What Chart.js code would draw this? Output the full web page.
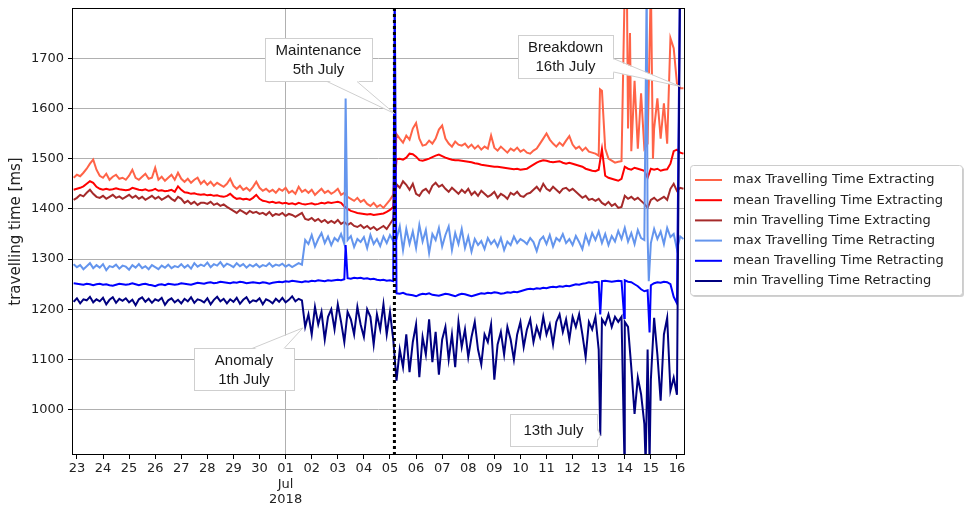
<!DOCTYPE html>
<html><head><meta charset="utf-8">
<script src="https://cdn.jsdelivr.net/npm/chart.js@4.4.1/dist/chart.umd.min.js"></script>
<style>html,body{margin:0;padding:0;background:#fff}canvas{display:block}</style>
</head><body>
<canvas id="c" width="966" height="511"></canvas>
<script>
// ---------- DATA ----------
// x axis: days since 23 Jun 2018 00:00 (0 = 23 Jun, 8 = 01 Jul, 23 = 16 Jul)
const dayLabels = ['23','24','25','26','27','28','29','30','01','02','03','04','05','06','07','08','09','10','11','12','13','14','15','16'];
const monthLabel = 'Jul';
const yearLabel = '2018';
const monthStartDay = 8;
const yTicks = [1000, 1100, 1200, 1300, 1400, 1500, 1600, 1700];
const seriesNames = [
  'max Travelling Time Extracting',
  'mean Travelling Time Extracting',
  'min Travelling Time Extracting',
  'max Travelling Time Retracting',
  'mean Travelling Time Retracting',
  'min Travelling Time Retracting'
];
// samples every 3 hours starting 22 Jun 21:00 (day -0.125)
const sampleStart = -0.125;
const sampleStep = 0.125;
const maintenanceDay = 12.17;

const maxExtracting = [
  1462,1468,1465,1472,1480,1490,1498,1478,
  1466,1462,1470,1458,1464,1468,1460,1462,
  1458,1466,1478,1462,1458,1464,1470,1460,
  1462,1482,1458,1464,1456,1462,1468,1458,
  1472,1460,1454,1460,1452,1458,1462,1450,
  1456,1448,1454,1446,1452,1448,1444,1450,
  1460,1446,1440,1446,1438,1442,1436,1444,
  1454,1442,1436,1440,1434,1438,1432,1440,
  1436,1442,1432,1436,1430,1444,1434,1438,
  1432,1438,1428,1434,1440,1432,1436,1430,
  1434,1440,1428,1432,1424,1420,1416,1422,
  1414,1418,1410,1406,1412,1404,1408,1402,
  1410,1418,1428,1549,1540,1532,1546,1538,
  1560,1571,1540,1526,1528,1536,1530,1540,
  1558,1566,1540,1530,1524,1534,1528,1526,
  1530,1522,1528,1520,1526,1518,1524,1520,
  1546,1522,1516,1524,1518,1512,1520,1516,
  1522,1514,1518,1512,1510,1516,1520,1530,
  1540,1550,1538,1530,1524,1532,1526,1536,
  1545,1528,1520,1524,1516,1522,1514,1512,
  1510,1506,1635,1520,1500,1496,1492,1494,
  1495,1850,1560,1515,1655,1520,1630,1520,
  1530,1850,1560,1620,1540,1610,1530,1740,
  1720,1650,1640,1640
];
const meanExtracting = [
  1438,1440,1442,1445,1450,1455,1452,1444,
  1440,1438,1440,1438,1439,1441,1439,1438,
  1437,1438,1442,1440,1438,1437,1439,1436,
  1437,1440,1436,1437,1435,1436,1438,1434,
  1445,1438,1433,1432,1430,1431,1429,1428,
  1429,1427,1428,1426,1427,1425,1424,1426,
  1430,1424,1420,1421,1419,1420,1418,1422,
  1428,1420,1416,1415,1413,1414,1412,1413,
  1411,1412,1410,1411,1409,1412,1410,1409,
  1410,1411,1409,1410,1412,1411,1413,1412,
  1413,1414,1412,1405,1400,1396,1394,1392,
  1391,1390,1389,1390,1388,1389,1390,1391,
  1394,1398,1404,1499,1500,1498,1502,1510,
  1509,1504,1497,1496,1498,1500,1503,1506,
  1508,1505,1502,1500,1498,1497,1497,1496,
  1495,1494,1493,1491,1490,1488,1487,1486,
  1485,1484,1484,1483,1482,1481,1480,1479,
  1480,1478,1479,1480,1484,1488,1492,1495,
  1497,1496,1494,1493,1494,1495,1492,1490,
  1492,1490,1488,1486,1484,1480,1478,1476,
  1475,1478,1519,1466,1462,1460,1458,1456,
  1460,1484,1480,1478,1482,1480,1478,1476,
  1462,1480,1478,1480,1476,1478,1479,1490,
  1515,1518,1512,1510
];
const minExtracting = [
  1418,1422,1428,1425,1432,1438,1430,1424,
  1422,1426,1420,1424,1428,1422,1425,1420,
  1424,1428,1422,1426,1420,1424,1418,1422,
  1426,1420,1424,1418,1422,1426,1420,1416,
  1424,1420,1412,1416,1410,1414,1408,1412,
  1412,1410,1414,1408,1411,1406,1409,1404,
  1400,1396,1392,1398,1394,1390,1396,1392,
  1394,1390,1392,1388,1394,1386,1390,1388,
  1392,1386,1390,1388,1384,1388,1392,1380,
  1378,1382,1376,1380,1374,1378,1372,1376,
  1372,1378,1370,1374,1368,1372,1366,1364,
  1368,1362,1366,1360,1364,1358,1362,1366,
  1360,1370,1380,1449,1442,1455,1448,1438,
  1450,1430,1426,1436,1440,1432,1446,1452,
  1444,1448,1440,1434,1442,1436,1430,1438,
  1432,1440,1428,1434,1426,1436,1430,1424,
  1428,1434,1422,1430,1426,1420,1432,1428,
  1434,1426,1424,1430,1432,1438,1444,1436,
  1450,1440,1436,1444,1438,1432,1440,1442,
  1436,1440,1434,1428,1422,1426,1418,1420,
  1416,1420,1412,1408,1414,1406,1410,1402,
  1404,1426,1420,1424,1418,1422,1416,1410,
  1402,1418,1422,1416,1420,1424,1418,1440,
  1450,1436,1442,1440
];
const maxRetracting = [
  1290,1284,1288,1280,1286,1292,1282,1288,
  1283,1290,1278,1286,1284,1289,1281,1287,
  1285,1279,1288,1283,1290,1282,1286,1280,
  1288,1284,1280,1287,1283,1289,1282,1286,
  1284,1290,1283,1288,1281,1292,1285,1289,
  1286,1293,1284,1290,1287,1294,1285,1291,
  1288,1284,1292,1286,1290,1283,1289,1285,
  1290,1284,1288,1286,1292,1285,1289,1287,
  1291,1285,1289,1284,1288,1292,1289,1338,
  1330,1348,1325,1340,1352,1332,1345,1328,
  1342,1336,1350,1330,1338,1346,1324,1340,
  1334,1344,1322,1348,1330,1340,1326,1345,
  1332,1348,1336,1340,1365,1318,1360,1330,
  1355,1322,1368,1335,1358,1312,1350,1338,
  1362,1325,1348,1365,1318,1352,1330,1360,
  1322,1345,1315,1340,1328,1336,1320,1342,
  1330,1338,1325,1342,1318,1335,1328,1345,
  1332,1340,1336,1330,1342,1334,1316,1338,
  1345,1330,1348,1325,1342,1336,1350,1332,
  1340,1328,1346,1334,1320,1348,1330,1352,
  1338,1355,1332,1350,1328,1346,1335,1356,
  1340,1362,1335,1352,1330,1358,1342,1338,
  1345,1332,1360,1340,1355,1330,1362,1344,
  1350,1320,1345,1340
];
const meanRetracting = [
  1252,1251,1250,1249,1251,1250,1248,1250,
  1251,1249,1250,1248,1247,1249,1251,1250,
  1249,1250,1252,1250,1248,1250,1251,1249,
  1248,1246,1249,1250,1248,1251,1250,1249,
  1250,1252,1251,1250,1249,1251,1253,1252,
  1251,1253,1254,1252,1253,1255,1254,1253,
  1252,1254,1253,1255,1254,1252,1253,1254,
  1253,1252,1254,1253,1251,1253,1254,1255,
  1254,1256,1255,1257,1256,1255,1254,1256,
  1255,1257,1256,1258,1257,1256,1258,1257,
  1258,1259,1258,1260,1262,1261,1263,1262,
  1263,1261,1262,1260,1261,1259,1258,1259,
  1257,1258,1256,1232,1231,1233,1230,1229,
  1228,1226,1229,1231,1230,1232,1229,1228,
  1227,1229,1231,1230,1228,1226,1229,1231,
  1230,1228,1226,1228,1230,1232,1231,1233,
  1232,1234,1233,1231,1232,1234,1233,1235,
  1234,1236,1238,1240,1241,1240,1242,1241,
  1243,1242,1244,1245,1244,1246,1245,1247,
  1246,1248,1250,1249,1251,1252,1254,1253,
  1255,1254,1256,1257,1256,1255,1256,1257,
  1256,1258,1255,1254,1250,1246,1240,1236,
  1238,1248,1252,1254,1253,1255,1254,1250,
  1225,1212,1900,1900
];
const minRetracting = [
  1215,1222,1212,1220,1218,1225,1214,1220,
  1216,1223,1210,1219,1224,1213,1221,1217,
  1222,1214,1219,1208,1220,1224,1215,1221,
  1213,1220,1217,1223,1209,1218,1222,1214,
  1219,1212,1221,1216,1224,1213,1220,1218,
  1214,1222,1210,1219,1225,1216,1221,1212,
  1220,1215,1223,1211,1219,1224,1213,1218,
  1216,1222,1210,1220,1217,1212,1221,1215,
  1223,1214,1219,1226,1216,1221,1218,1165,
  1190,1150,1205,1170,1195,1140,1185,1200,
  1160,1210,1175,1135,1195,1180,1150,1205,
  1170,1145,1200,1185,1130,1190,1160,1210,
  1150,1195,1140,1058,1120,1085,1150,1075,
  1135,1170,1065,1145,1110,1180,1095,1155,
  1070,1140,1165,1100,1150,1085,1175,1125,
  1160,1105,1145,1175,1120,1090,1150,1135,
  1170,1060,1130,1155,1110,1165,1140,1100,
  1150,1175,1125,1160,1180,1135,1165,1145,
  1185,1150,1170,1130,1175,1190,1155,1180,
  1140,1185,1165,1190,1150,1105,1175,1160,
  1185,1120,1180,1170,1190,1165,1185,1175,
  1185,1175,1165,1084,992,1064,1031,972,
  1120,1060,1183,1110,1018,1150,1183,1038,
  1064,1030,1900,1900
];
// short isolated spikes between samples: [day, value]
const maxExtractingSpikes = [[20.05, 1638], [21.08, 1850], [21.2, 1750], [22.08, 1500]];
const meanExtractingSpikes = [];
const minExtractingSpikes = [];
const maxRetractingSpikes = [[10.3, 1620], [21.84, 1850], [21.92, 1256]];
const meanRetractingSpikes = [[10.3, 1328], [12.18, 1850], [20.06, 1190], [20.98, 1183], [21.95, 1154]];
const minRetractingSpikes = [[20.06, 948], [20.99, 890], [21.8, 890], [21.95, 895]];

// ---------- STYLE ----------
const colors = ['#ff6347', '#ff0000', '#a52a2a', '#6495ed', '#0000ff', '#000080'];
const annotations = [
  {lines: ['Maintenance', '5th July'], day: 12.17, value: 1590, dx: -76, dy: -54, w: 107, h: 43, side: 'bottom', base: [0.58, 0.86]},
  {lines: ['Breakdown', '16th July'], day: 23.12, value: 1644, dx: -115, dy: -30, w: 95, h: 43, side: 'right', base: [0.55, 0.86]},
  {lines: ['Anomaly', '1th July'], day: 8.66, value: 1163, dx: -59, dy: 41, w: 100, h: 42, side: 'top', base: [0.58, 0.9]},
  {lines: ['13th July'], day: 20.06, value: 948, dx: -47, dy: -6, w: 87, h: 32, side: 'right', base: [0.44, 0.84]}
];

function buildSeries(values, spikes) {
  const pts = values.map((v, i) => ({x: sampleStart + i * sampleStep, y: v}));
  spikes.forEach(([d, v]) => pts.push({x: d, y: v}));
  return pts.sort((a, b) => a.x - b.x);
}
const allValues = [maxExtracting, meanExtracting, minExtracting, maxRetracting, meanRetracting, minRetracting];
const allSpikes = [maxExtractingSpikes, meanExtractingSpikes, minExtractingSpikes, maxRetractingSpikes, meanRetractingSpikes, minRetractingSpikes];

Chart.defaults.font.family = '"DejaVu Sans", sans-serif';
Chart.defaults.color = '#222';

const overlay = {
  id: 'overlay',
  afterDatasetsDraw(chart) {
    const {ctx, chartArea: a, scales: {x, y}} = chart;
    ctx.save();
    // maintenance dotted line
    const mx = x.getPixelForValue(maintenanceDay);
    ctx.strokeStyle = '#000'; ctx.lineWidth = 3; ctx.setLineDash([3, 3]);
    ctx.beginPath(); ctx.moveTo(mx, a.top); ctx.lineTo(mx, a.bottom); ctx.stroke();
    ctx.setLineDash([]);
    // frame
    ctx.strokeStyle = '#000'; ctx.lineWidth = 1;
    ctx.strokeRect(Math.round(a.left) - 0.5, Math.round(a.top) + 0.5, Math.round(a.right - a.left) + 1, Math.round(a.bottom - a.top) - 1);
    // annotations
    annotations.forEach(an => {
      const tx = x.getPixelForValue(an.day), ty = y.getPixelForValue(an.value);
      const cx = tx + an.dx, cy = ty + an.dy;
      const bx = Math.round(cx - an.w / 2), by = Math.round(cy - an.h / 2);
      ctx.fillStyle = '#fff'; ctx.strokeStyle = '#cfcfcf'; ctx.lineWidth = 1;
      ctx.fillRect(bx, by, an.w, an.h);
      ctx.strokeRect(bx + 0.5, by + 0.5, an.w, an.h);
      let p0, p1, q0, q1;
      if (an.side === 'bottom') {
        p0 = [bx + an.w * an.base[0], by + an.h + 0.5]; p1 = [bx + an.w * an.base[1], by + an.h + 0.5];
        q0 = [p0[0], p0[1] - 1.5]; q1 = [p1[0], p1[1] - 1.5];
      } else if (an.side === 'top') {
        p0 = [bx + an.w * an.base[0], by + 0.5]; p1 = [bx + an.w * an.base[1], by + 0.5];
        q0 = [p0[0], p0[1] + 1.5]; q1 = [p1[0], p1[1] + 1.5];
      } else {
        p0 = [bx + an.w + 0.5, by + an.h * an.base[0]]; p1 = [bx + an.w + 0.5, by + an.h * an.base[1]];
        q0 = [p0[0] - 1.5, p0[1]]; q1 = [p1[0] - 1.5, p1[1]];
      }
      ctx.beginPath(); ctx.moveTo(q0[0], q0[1]); ctx.lineTo(tx, ty); ctx.lineTo(q1[0], q1[1]); ctx.closePath();
      ctx.fill();
      ctx.beginPath(); ctx.moveTo(p0[0], p0[1]); ctx.lineTo(tx, ty); ctx.lineTo(p1[0], p1[1]); ctx.stroke();
      ctx.fillStyle = '#1a1a1a';
      ctx.font = '15px "Liberation Sans", Arial, sans-serif';
      ctx.textAlign = 'center'; ctx.textBaseline = 'middle';
      an.lines.forEach((t, i) => ctx.fillText(t, bx + an.w / 2, by + an.h / 2 + (i - (an.lines.length - 1) / 2) * 19 + 1));
    });
    // legend
    const lx = a.right + 6, ly = 165, lw = 272, lh = 130;
    ctx.fillStyle = 'rgba(0,0,0,0.18)';
    ctx.beginPath(); ctx.roundRect(lx + 2, ly + 2, lw, lh, 3); ctx.fill();
    ctx.fillStyle = '#fff'; ctx.strokeStyle = '#cccccc';
    ctx.beginPath(); ctx.roundRect(lx + 0.5, ly + 0.5, lw, lh, 3); ctx.fill(); ctx.stroke();
    ctx.font = '13px "DejaVu Sans", sans-serif';
    ctx.textAlign = 'left'; ctx.textBaseline = 'middle';
    chart.data.datasets.forEach((ds, i) => {
      const iy = ly + 15 + i * 20.2;
      ctx.strokeStyle = ds.borderColor; ctx.lineWidth = 2;
      ctx.beginPath(); ctx.moveTo(lx + 5, iy); ctx.lineTo(lx + 32, iy); ctx.stroke();
      ctx.fillStyle = '#222';
      ctx.fillText(ds.label, lx + 43, iy);
    });
    ctx.restore();
  }
};

new Chart(document.getElementById('c'), {
  type: 'line',
  data: {
    datasets: seriesNames.map((name, i) => ({
      label: name,
      data: buildSeries(allValues[i], allSpikes[i]),
      borderColor: colors[i],
      backgroundColor: colors[i],
      borderWidth: 2,
      pointRadius: 0,
      tension: 0,
      fill: false,
      order: 5 - i
    }))
  },
  options: {
    responsive: false,
    animation: false,
    devicePixelRatio: 1,
    layout: {padding: {left: 0, right: 282, top: 8, bottom: 0}},
    plugins: {legend: {display: false}, tooltip: {enabled: false}},
    scales: {
      x: {
        type: 'linear', min: -0.15, max: 23.27,
        afterBuildTicks: s => { s.ticks = dayLabels.map((_, i) => ({value: i})); },
        afterFit: s => { s.height = 56; s.paddingLeft = 0; s.paddingRight = 0; },
        border: {display: false},
        grid: {
          color: c => (c.tick && c.tick.value === monthStartDay) ? '#b0b0b0' : 'rgba(0,0,0,0)',
          tickColor: '#000', tickLength: 4, lineWidth: 1
        },
        ticks: {
          autoSkip: false, maxRotation: 0, minRotation: 0, padding: 2,
          font: {size: 13}, color: '#222',
          callback: v => v === monthStartDay ? [dayLabels[v], monthLabel, yearLabel] : dayLabels[v]
        }
      },
      y: {
        min: 910, max: 1800,
        afterBuildTicks: s => { s.ticks = yTicks.map(v => ({value: v})); },
        afterFit: s => { s.width = 73; s.paddingTop = 0; s.paddingBottom = 0; },
        border: {display: false},
        grid: {color: '#b0b0b0', tickColor: '#000', tickLength: 5, lineWidth: 1},
        ticks: {font: {size: 13}, color: '#222', padding: 4, callback: v => String(v)},
        title: {display: true, text: 'travelling time [ms]', font: {size: 15}, color: '#222', padding: {top: 7, bottom: 2}}
      }
    }
  },
  plugins: [overlay]
});
</script>
</body></html>
